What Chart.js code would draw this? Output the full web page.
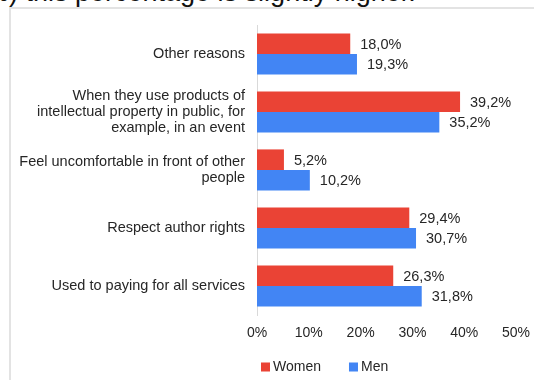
<!DOCTYPE html>
<html>
<head>
<meta charset="utf-8">
<script src="https://cdn.jsdelivr.net/npm/chart.js@4/dist/chart.umd.min.js"></script>
<style>
  html, body { margin: 0; padding: 0; background: #ffffff; }
  body { width: 534px; height: 380px; position: relative; overflow: hidden; }
  #lead {
    position: absolute; left: -15px; top: -21px;
    font: 27px "Liberation Sans", Arial, sans-serif; line-height: 1;
    color: #111111; white-space: nowrap;
  }
  #frame {
    position: absolute; left: 9px; top: 7px; width: 540px; height: 390px;
    border-left: 2px solid #e3e3e3; border-top: 2px solid #e3e3e3;
  }
  #wrap { position: absolute; left: 0; top: 0; width: 534px; height: 380px; }
</style>
</head>
<body>
<div id="lead">%) this percentage is slightly higher.</div>
<div id="frame"></div>
<div id="wrap"><canvas id="chart" width="534" height="380"></canvas></div>
<script>
// Reasons (top to bottom as shown on the axis)
const categories = [
  "Other reasons",
  ["When they use products of", "intellectual property in public, for", "example, in an event"],
  ["Feel uncomfortable in front of other", "people"],
  "Respect author rights",
  "Used to paying for all services"
];
const women = [18.0, 39.2, 5.2, 29.4, 26.3];
const men = [19.3, 35.2, 10.2, 30.7, 31.8];
const xTicks = [0, 10, 20, 30, 40, 50];

const FONT = '"Liberation Sans", Arial, sans-serif';
const TEXT = '#262626';

const fmt = v => v.toFixed(1).replace('.', ',') + '%';

// Percent labels placed just past the end of each bar
const valueLabels = {
  id: 'valueLabels',
  afterDatasetsDraw(chart) {
    const ctx = chart.ctx;
    ctx.save();
    ctx.font = '14.5px ' + FONT;
    ctx.fillStyle = TEXT;
    ctx.textAlign = 'left';
    ctx.textBaseline = 'middle';
    chart.data.datasets.forEach((ds, i) => {
      chart.getDatasetMeta(i).data.forEach((bar, j) => {
        ctx.fillText(fmt(ds.data[j]), bar.x + 10, bar.y + 1);
      });
    });
    ctx.restore();
  }
};

// Compact legend below the axis
const smallLegend = {
  id: 'smallLegend',
  afterDraw(chart) {
    const ctx = chart.ctx;
    ctx.save();
    ctx.font = '14px ' + FONT;
    ctx.textBaseline = 'middle';
    let x = 261;
    const y = 367;
    chart.data.datasets.forEach(ds => {
      ctx.fillStyle = ds.backgroundColor;
      ctx.fillRect(x, y - 4.5, 9, 9);
      ctx.fillStyle = TEXT;
      ctx.fillText(ds.label, x + 12, y);
      x += 12 + ctx.measureText(ds.label).width + 28;
    });
    ctx.restore();
  }
};

new Chart(document.getElementById('chart'), {
  type: 'bar',
  data: {
    labels: categories,
    datasets: [
      { label: 'Women', data: women, backgroundColor: '#EA4335' },
      { label: 'Men', data: men, backgroundColor: '#4285F4' }
    ]
  },
  options: {
    indexAxis: 'y',
    responsive: false,
    animation: false,
    devicePixelRatio: 1,
    categoryPercentage: 0.71,
    barPercentage: 1.0,
    layout: { padding: { left: 0, right: 18, top: 25, bottom: 38 } },
    plugins: {
      legend: { display: false },
      tooltip: { enabled: false }
    },
    scales: {
      x: {
        min: 0,
        max: 50,
        afterBuildTicks(scale) { scale.ticks = xTicks.map(v => ({ value: v })); },
        afterFit(scale) { scale.height = 27; scale.paddingRight = 0; },
        grid: { display: false, drawTicks: false },
        border: { display: false },
        ticks: {
          padding: 10,
          color: TEXT,
          font: { family: FONT, size: 14 },
          callback: v => v + '%'
        }
      },
      y: {
        afterFit(scale) { scale.width = 257; },
        grid: { display: false, drawTicks: false },
        border: { display: true, color: '#d9d9d9', width: 1 },
        ticks: {
          padding: 12,
          color: TEXT,
          font: { family: FONT, size: 14.5, lineHeight: 1.125 }
        }
      }
    }
  },
  plugins: [valueLabels, smallLegend]
});
</script>
</body>
</html>
